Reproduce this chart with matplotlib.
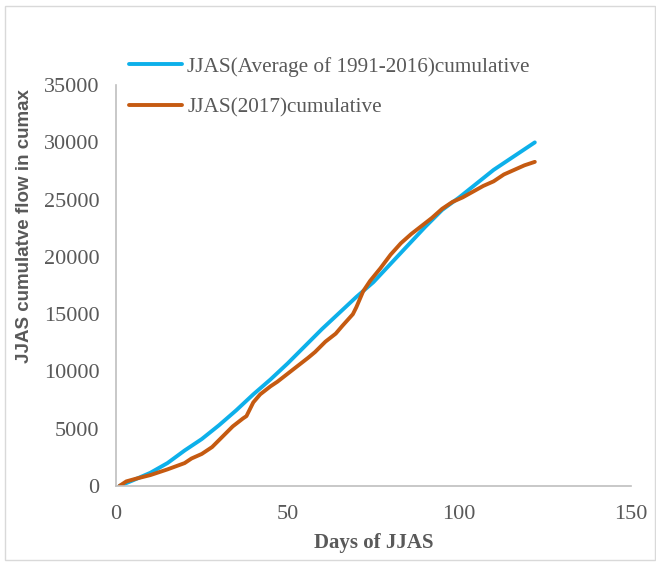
import numpy as np
import matplotlib.pyplot as plt
from matplotlib.patches import Rectangle

# dias y caudal acumulado
dias_media = [1, 5, 10, 15, 20, 25, 30, 35, 40, 45, 50, 55, 60, 65, 70, 75,
              80, 85, 90, 95, 100, 105, 110, 115, 120, 122]
media = [0, 500, 1150, 2000, 3100, 4100, 5300, 6600, 8000, 9300, 10700, 12200,
         13700, 15100, 16500, 17800, 19400, 21000, 22600, 24100, 25200, 26400,
         27600, 28600, 29600, 30000]

dias_2017 = [1, 3, 6, 10, 15, 20, 22, 25, 28, 31, 34, 37, 38, 40, 42, 45, 47, 50,
             53, 56, 58, 61, 64, 66, 69, 70, 72, 74, 77, 80, 83, 86, 89, 92, 95,
             98, 101, 104, 107, 110, 113, 116, 119, 122]
anio_2017 = [0, 400, 650, 950, 1450, 2000, 2400, 2800, 3400, 4300, 5200, 5900,
             6100, 7300, 8000, 8700, 9100, 9800, 10500, 11200, 11700, 12600, 13300,
             14000, 15000, 15600, 17000, 17900, 19000, 20200, 21200, 22000, 22700,
             23400, 24200, 24800, 25200, 25700, 26200, 26600, 27200, 27600, 28000,
             28300]

fig = plt.figure(figsize=(6.56, 5.63), dpi=100)
ax = fig.add_axes([0.1768, 0.1368, 0.785, 0.712])

ax.plot(dias_media, media, color='#0DB0EA', lw=2.8, solid_capstyle='round',
        label='JJAS(Average of 1991-2016)cumulative')
ax.plot(dias_2017, anio_2017, color='#C55A11', lw=2.8, solid_capstyle='round',
        label='JJAS(2017)cumulative')

ax.set_xlim(0, 150)
ax.set_ylim(0, 35000)
ax.set_xticks([0, 50, 100, 150])
ax.set_yticks(np.arange(0, 35001, 5000))
ax.tick_params(axis='y', length=0, labelsize=16, colors='#595959', pad=12)
ax.tick_params(axis='x', length=0, labelsize=16, colors='#595959', pad=14)
for lab in ax.get_xticklabels() + ax.get_yticklabels():
    lab.set_fontfamily('Liberation Serif')
for s in ['top', 'right']:
    ax.spines[s].set_visible(False)
for s in ['left', 'bottom']:
    ax.spines[s].set_color('#BFBFBF')
    ax.spines[s].set_linewidth(1.2)

ax.set_xlabel('Days of JJAS', fontfamily='Liberation Serif', fontweight='bold',
              fontsize=15, color='#595959', labelpad=6)
ax.set_ylabel('JJAS cumulatve flow in cumax', fontfamily='Liberation Sans',
              fontweight='bold', fontsize=13.5, color='#595959')
ax.yaxis.set_label_coords(-0.177, 0.648)
ax.yaxis.label.set_va('center')

leg = fig.legend(loc='upper left', bbox_to_anchor=(0.1966, 0.899), frameon=False,
                 prop={'family': 'Liberation Serif', 'size': 15.3},
                 labelcolor='#595959', handlelength=2.5, handletextpad=0.25,
                 labelspacing=1.0, borderpad=0, borderaxespad=0)

fig.patches.append(Rectangle((0.008, 0.005), 0.99, 0.985, transform=fig.transFigure,
                             fill=False, edgecolor='#D9D9D9', lw=1))

fig.savefig('out.png', dpi=100)
